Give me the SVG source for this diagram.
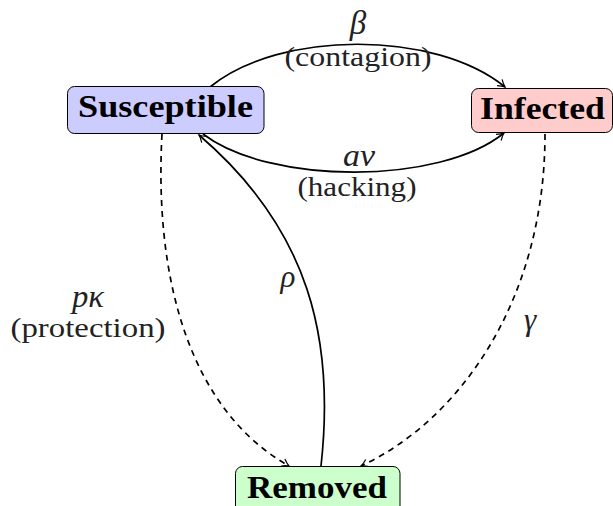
<svg xmlns="http://www.w3.org/2000/svg" width="613" height="506" viewBox="0 0 613 506">
<defs>
<style>
.box{stroke:#000;stroke-width:1}
.node{font-family:"Times New Roman","Liberation Serif",serif;font-weight:bold;font-size:31px;fill:#000;text-anchor:middle}
.lbl{font-family:"Times New Roman","Liberation Serif",serif;font-size:28px;fill:#222;text-anchor:middle}
.math{font-family:"Times New Roman","Liberation Serif",serif;font-style:italic;font-size:31px;fill:#222;text-anchor:middle}
.edge{fill:none;stroke:#000;stroke-width:1.7}
.dash{stroke-dasharray:6 5}
</style>
<marker id="arr" markerUnits="userSpaceOnUse" viewBox="-10 -6 12 12" refX="0" refY="0" markerWidth="12" markerHeight="12" orient="auto">
<path d="M-7,-4 Q-3,-1 0,0 Q-3,1 -7,4" fill="none" stroke="#000" stroke-width="1.2"/>
</marker>
</defs>
<g id="connectors">
<path class="edge" d="M210,87 C280,30 435,30 505,87" marker-end="url(#arr)"/>
<path class="edge" d="M203,134 C270,185 440,185 504,133" marker-end="url(#arr)"/>
<path class="edge dash" d="M162,134 C154,280 190,410 289,466" marker-end="url(#arr)"/>
<path class="edge dash" d="M545,134 C545,300 460,420 361,466" marker-end="url(#arr)"/>
<path class="edge" d="M321,466 C335,340 310,230 199,135" marker-end="url(#arr)"/>
<text class="math" x="358" y="34" style="font-size:33px">β</text>
<text class="lbl" x="358" y="66" textLength="147" lengthAdjust="spacingAndGlyphs">(contagion)</text>
<text class="math" x="359" y="166" textLength="32" lengthAdjust="spacingAndGlyphs">aν</text>
<text class="lbl" x="357" y="196" textLength="119" lengthAdjust="spacingAndGlyphs">(hacking)</text>
<text class="math" x="288" y="287">ρ</text>
<text class="math" x="88" y="307" textLength="32" lengthAdjust="spacingAndGlyphs">pκ</text>
<text class="lbl" x="88" y="337" textLength="155" lengthAdjust="spacingAndGlyphs">(protection)</text>
<text class="math" x="530" y="330">γ</text>
</g>
<g id="susceptible">
<rect class="box" x="67.5" y="86.5" width="196.5" height="47" rx="7" fill="#ccccff"/>
<text class="node" x="165.5" y="117" textLength="175" lengthAdjust="spacingAndGlyphs">Susceptible</text>
</g>
<g id="infected">
<rect class="box" x="471.5" y="88.5" width="141" height="44" rx="7" fill="#ffcccc"/>
<text class="node" x="542.5" y="119" textLength="125" lengthAdjust="spacingAndGlyphs">Infected</text>
</g>
<g id="removed">
<rect class="box" x="235.5" y="466.5" width="164.5" height="48" rx="7" fill="#ccffcc"/>
<text class="node" x="317" y="498" textLength="140" lengthAdjust="spacingAndGlyphs">Removed</text>
</g>
</svg>
